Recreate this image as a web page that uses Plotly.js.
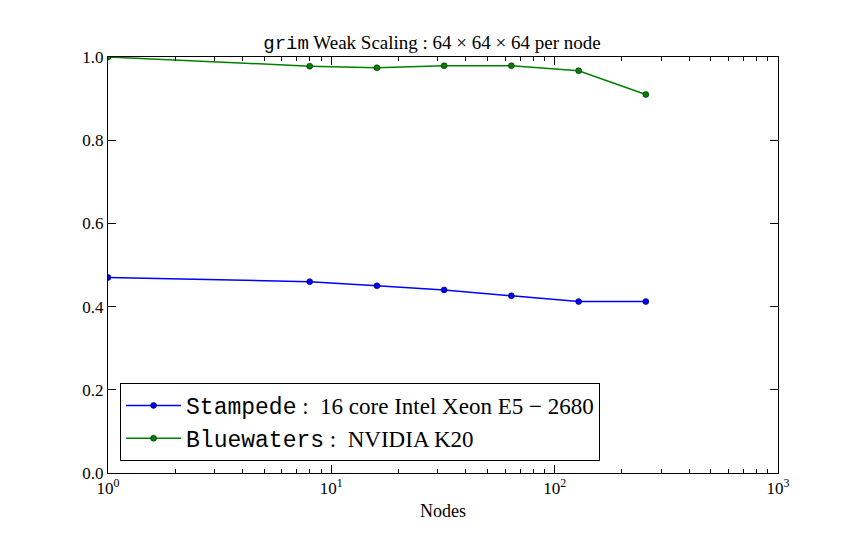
<!DOCTYPE html>
<html>
<head>
<meta charset="utf-8">
<script src="https://cdn.plot.ly/plotly-3.0.1.min.js"></script>
<style>body{margin:0;background:#fff}</style>
</head>
<body>
<div id="plot" style="width:864px;height:540px"></div>
<script>
var nodes = [1, 8, 16, 32, 64, 128, 256];
var stampede = [0.470, 0.460, 0.450, 0.440, 0.426, 0.412, 0.412];
var bluewaters = [1.000, 0.978, 0.974, 0.979, 0.979, 0.967, 0.910];
var xTickVals = [1, 10, 100, 1000];
var xTickText = ['10<sup>0</sup>', '10<sup>1</sup>', '10<sup>2</sup>', '10<sup>3</sup>'];

var mono = "'Liberation Mono'";
var serif = 'Liberation Serif, DejaVu Serif, serif';

var traces = [
    {
        x: nodes, y: stampede,
        name: "<span style=\"font-family:" + mono + "\">Stampede</span> :  16 core Intel Xeon E5 − 2680",
        mode: 'lines+markers', type: 'scatter',
        line: {color: '#0000ff', width: 1.5},
        marker: {color: '#0000ff', size: 6, line: {color: '#000', width: 0.5}}
    },
    {
        x: nodes, y: bluewaters,
        name: "<span style=\"font-family:" + mono + "\">Bluewaters</span> :  NVIDIA K20",
        mode: 'lines+markers', type: 'scatter',
        line: {color: '#008000', width: 1.5},
        marker: {color: '#008000', size: 6, line: {color: '#000', width: 0.5}}
    }
];

var layout = {
    width: 864, height: 540,
    margin: {l: 108, r: 86, t: 57, b: 67},
    paper_bgcolor: '#fff', plot_bgcolor: '#fff',
    font: {family: serif, size: 17, color: '#000'},
    title: {
        text: "<span style=\"font-family:" + mono + "\">grim</span> Weak Scaling : 64 × 64 × 64 per node",
        font: {size: 19}, x: 0.5, xanchor: 'center', y: 0.922, yanchor: 'middle'
    },
    showlegend: true,
    legend: {
        x: 0.018, y: 0.029, xanchor: 'left', yanchor: 'bottom',
        bordercolor: '#000', borderwidth: 1, bgcolor: '#fff',
        font: {size: 23}, tracegroupgap: 4, itemwidth: 55
    },
    xaxis: {
        type: 'log', range: [0, 3],
        tickmode: 'array', tickvals: xTickVals, ticktext: xTickText,
        ticks: 'inside', ticklen: 8, tickcolor: '#000',
        showline: true, linecolor: '#000', linewidth: 1, mirror: 'allticks',
        showgrid: false, zeroline: false,
        minor: {dtick: 'D1', ticks: 'inside', ticklen: 4, tickcolor: '#000', showgrid: false},
        title: {text: 'Nodes', font: {size: 18}, standoff: 6}
    },
    yaxis: {
        range: [0, 1.0], dtick: 0.2, tickformat: '.1f',
        ticks: 'inside', ticklen: 8, tickcolor: '#000',
        showline: true, linecolor: '#000', linewidth: 1, mirror: 'allticks',
        showgrid: false, zeroline: false
    }
};

Plotly.newPlot('plot', traces, layout, {staticPlot: true});
</script>
</body>
</html>
